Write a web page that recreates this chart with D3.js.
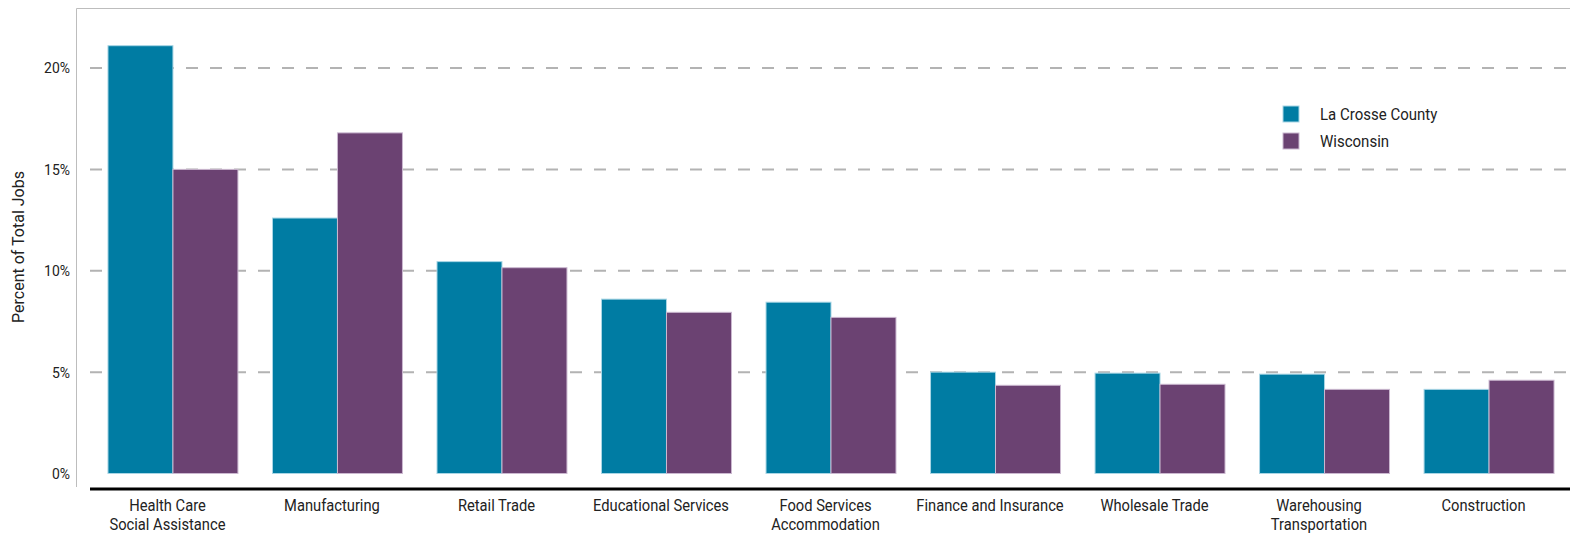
<!DOCTYPE html>
<html>
<head>
<meta charset="utf-8">
<script src="https://cdn.jsdelivr.net/npm/d3@7"></script>
<style>
  html, body { margin: 0; padding: 0; background: #fff; }
  svg { display: block; }
  text { font-family: Roboto, "Noto Sans", sans-serif; fill: #222; }
</style>
</head>
<body>
<svg id="chart" width="1570" height="533"></svg>
<script>
// Industry categories (multi-line labels split on "\n")
const categories = [
  "Health Care\nSocial Assistance",
  "Manufacturing",
  "Retail Trade",
  "Educational Services",
  "Food Services\nAccommodation",
  "Finance and Insurance",
  "Wholesale Trade",
  "Warehousing\nTransportation",
  "Construction"
];
// Share of total jobs, percent
const laCrosse  = [21.1, 12.6, 10.45, 8.6, 8.45, 5.0, 4.95, 4.9, 4.15];
const wisconsin = [15.0, 16.8, 10.15, 7.95, 7.7, 4.35, 4.4, 4.15, 4.6];
const seriesNames = ["La Crosse County", "Wisconsin"];
const seriesColors = ["#007ca3", "#6b4272"];
const yTicks = [0, 5, 10, 15, 20];

const svg = d3.select("#chart");
const W = 1570;
const plotLeft = 90.7, plotRight = 1571.3;
const yBase = 473.5;

const x = d3.scaleBand().domain(categories).range([plotLeft, plotRight])
  .paddingInner(0.21).paddingOuter(0.105);
const x1 = d3.scaleBand().domain(seriesNames).range([0, x.bandwidth()]);
const y = d3.scaleLinear().domain([0, 20]).range([yBase, 68]);

// frame (left and top)
svg.append("path")
  .attr("d", `M76.5,487 V8.5 H${W}`)
  .attr("fill", "none").attr("stroke", "#bdbdbd").attr("stroke-width", 1);

// dashed gridlines
svg.append("g").selectAll("line")
  .data(yTicks.filter(d => d > 0))
  .join("line")
  .attr("x1", 90).attr("x2", W)
  .attr("y1", d => y(d)).attr("y2", d => y(d))
  .attr("stroke", "#b3b3b3").attr("stroke-width", 2)
  .attr("stroke-dasharray", "12,12");

// y axis tick labels
const yAxis = d3.axisLeft(y).tickValues(yTicks).tickFormat(d => d + "%").tickSize(0).tickPadding(0);
const gy = svg.append("g").attr("transform", "translate(70,0)").call(yAxis);
gy.select(".domain").remove();
gy.selectAll("text").style("font-family", "Roboto, sans-serif")
  .style("font-size", "15.5px").attr("fill", "#222")
  .attr("transform", "scale(0.9,1)");

// bars
const rows = categories.map((c, i) => ({ cat: c, vals: [laCrosse[i], wisconsin[i]] }));
const groups = svg.append("g").selectAll("g").data(rows).join("g")
  .attr("transform", d => `translate(${x(d.cat)},0)`);
groups.selectAll("rect")
  .data(d => d.vals.map((v, k) => ({ v, k })))
  .join("rect")
  .attr("x", d => x1(seriesNames[d.k]))
  .attr("y", d => y(d.v))
  .attr("width", x1.bandwidth())
  .attr("height", d => yBase - y(d.v))
  .attr("fill", d => seriesColors[d.k])
  .attr("stroke", d => d.k === 0 ? "#a9d6e5" : "#cbb8d0")
  .attr("stroke-width", 1);

// x axis baseline
svg.append("line").attr("x1", 90).attr("x2", W).attr("y1", 489).attr("y2", 489)
  .attr("stroke", "#000").attr("stroke-width", 3);

// category labels (set slightly left of the group centre)
const lab = svg.append("g").selectAll("text").data(categories).join("text")
  .attr("text-anchor", "middle")
  .attr("transform", d => `translate(${x(d) + x.bandwidth() / 2 - 5.5},511) scale(0.92,1)`)
  .style("font-size", "16px");
lab.selectAll("tspan").data(d => d.split("\n")).join("tspan")
  .attr("x", 0).attr("dy", (d, i) => i === 0 ? 0 : 19)
  .text(d => d);

// y axis title
svg.append("text")
  .attr("transform", "translate(24,247) rotate(-90)")
  .attr("text-anchor", "middle")
  .style("font-size", "16px")
  .text("Percent of Total Jobs");

// legend
const leg = svg.append("g").attr("transform", "translate(1283,106)");
seriesNames.forEach((n, i) => {
  const g = leg.append("g").attr("transform", `translate(0,${i * 27})`);
  g.append("rect").attr("width", 16).attr("height", 16)
    .attr("fill", seriesColors[i])
    .attr("stroke", i === 0 ? "#a9d6e5" : "#cbb8d0");
  g.append("text").attr("x", 37).attr("y", 8).attr("dy", "0.35em")
    .style("font-size", "16.5px").text(n)
    .attr("transform", "translate(37,0) scale(0.91,1) translate(-37,0)");
});
</script>
</body>
</html>
